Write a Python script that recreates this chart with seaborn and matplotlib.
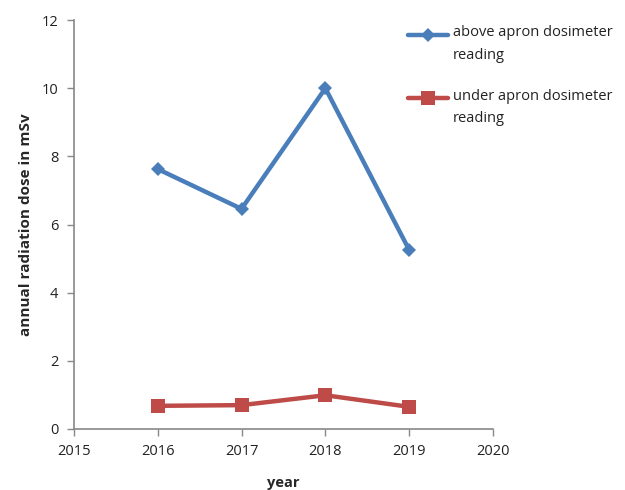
import matplotlib
matplotlib.use("Agg")
import matplotlib.pyplot as plt
from matplotlib.legend_handler import HandlerLine2D
import seaborn as sns
import pandas as pd

years = [2016, 2017, 2018, 2019]
above_apron = [7.63, 6.46, 10.0, 5.25]
under_apron = [0.68, 0.70, 0.99, 0.65]
series_names = ["above apron dosimeter\nreading", "under apron dosimeter\nreading"]
x_ticks = [2015, 2016, 2017, 2018, 2019, 2020]
y_ticks = [0, 2, 4, 6, 8, 10, 12]

df = pd.DataFrame({
    "year": years * 2,
    "dose": above_apron + under_apron,
    "series": [series_names[0]] * len(years) + [series_names[1]] * len(years),
})

sns.set_style("white")
plt.rcParams["font.family"] = ["Open Sans", "DejaVu Sans"]

fig = plt.figure(figsize=(6.25, 4.9), dpi=100)
ax = fig.add_axes([0.118, 0.1245, 0.671, 0.8345])

palette = {series_names[0]: "#4a7ebb", series_names[1]: "#be4b48"}
markers = {series_names[0]: "D", series_names[1]: "s"}
sizes = {series_names[0]: 7, series_names[1]: 10}
for name in series_names:
    sub = df[df["series"] == name]
    sns.lineplot(data=sub, x="year", y="dose", ax=ax, color=palette[name],
                 marker=markers[name], markersize=sizes[name], linewidth=3.2,
                 markeredgewidth=0, label=name)

ax.set_xlim(2015, 2020)
ax.set_ylim(0, 12)
ax.set_xticks(x_ticks)
ax.set_yticks(y_ticks)
ax.tick_params(axis="both", which="both", direction="out", length=5, width=1,
               color="#888888", labelsize=10.5, labelcolor="#222222", pad=6,
               bottom=True, left=True)
for s in ["top", "right"]:
    ax.spines[s].set_visible(False)
for s in ["left", "bottom"]:
    ax.spines[s].set_color("#888888")
    ax.spines[s].set_linewidth(1.2)

ax.set_xlabel("year", fontsize=10.5, fontweight="bold")
ax.set_ylabel("annual radiation dose in mSv", fontsize=11, fontweight="bold")
ax.xaxis.set_label_coords(0.5, -0.115)
ax.yaxis.set_label_coords(-0.098, 0.5)


class UpHandler(HandlerLine2D):
    def create_artists(self, legend, orig_handle, xdescent, ydescent, width,
                       height, fontsize, trans):
        return super().create_artists(legend, orig_handle, xdescent,
                                      ydescent - 1.35 * fontsize, width,
                                      height, fontsize, trans)


handles, labels = ax.get_legend_handles_labels()
leg = ax.legend(handles, labels, loc="upper left", bbox_to_anchor=(0.632, 0.975),
                bbox_transform=fig.transFigure, frameon=False, fontsize=10.5,
                handlelength=2.7, labelspacing=1.75, handletextpad=0.35,
                handler_map={h: UpHandler() for h in handles})
for t in leg.get_texts():
    t.set_linespacing(1.7)
    t.set_color("#222222")

fig.savefig("out.png", dpi=100)
